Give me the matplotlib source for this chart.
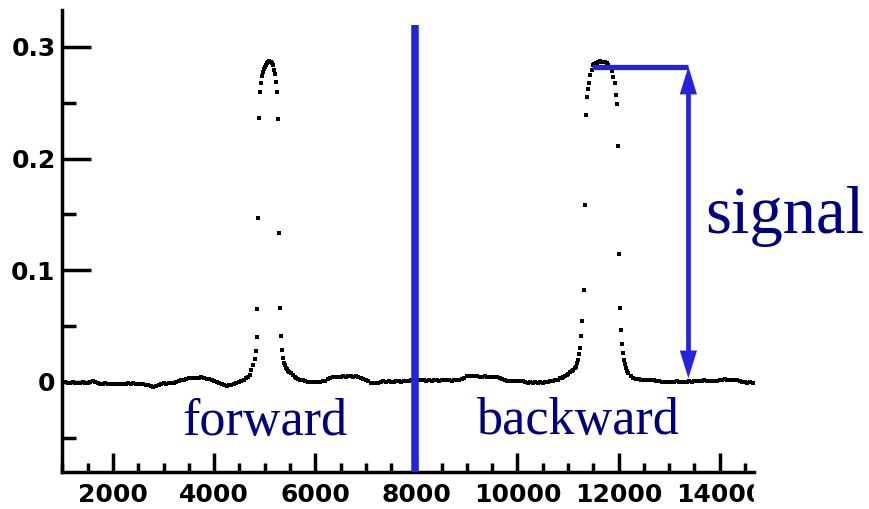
import numpy as np
import matplotlib.pyplot as plt
from matplotlib.patches import FancyArrowPatch, Rectangle
from matplotlib.ticker import FixedLocator, MultipleLocator

# baseline samples, one every 50 units
step = 50
base1_start = 1000
base1_y = [-0.0006, -0.0004, -0.0007, -0.0005, -0.0003, -0.0006, -0.0005, -0.0008, -0.0004, -0.0006, -0.0005,
           0.0002, 0.0010, 0.0004, -0.0008,
           -0.0015, -0.0020, -0.0012, -0.0018, -0.0022, -0.0016, -0.0019, -0.0014, -0.0020, -0.0017, -0.0015,
           -0.0013, -0.0017, -0.0012, -0.0016, -0.0020, -0.0015, -0.0018, -0.0024,
           -0.0030, -0.0038, -0.0042, -0.0036,
           -0.0025, -0.0018, -0.0012, -0.0016, -0.0010, -0.0013, -0.0008, -0.0004,
           0.0008, 0.0018, 0.0022, 0.0026,
           0.0032, 0.0036, 0.0040, 0.0034, 0.0038, 0.0042, 0.0036, 0.0030,
           0.0024, 0.0014, 0.0008, -0.0004,
           -0.0012, -0.0018, -0.0028, -0.0034, -0.0030]

base2_start = 5650
base2_y = [0.0030, 0.0022, 0.0015, 0.0008, 0.0004, 0.0000, -0.0004, 0.0002, -0.0003, 0.0001, 0.0006, 0.0012,
           0.0025, 0.0038, 0.0042, 0.0046, 0.0044,
           0.0048, 0.0052, 0.0046, 0.0050, 0.0055, 0.0049, 0.0052, 0.0045, 0.0040,
           0.0028, 0.0018, 0.0006,
           -0.0008, -0.0012, -0.0006, -0.0010,
           0.0002, 0.0006, 0.0003, 0.0008, 0.0004, 0.0001, 0.0006, 0.0009, 0.0004, 0.0007, 0.0010, 0.0012,
           0.0014, 0.0018, 0.0012, 0.0016, 0.0020, 0.0015, 0.0011, 0.0017, 0.0013, 0.0019, 0.0016, 0.0012,
           0.0018, 0.0014, 0.0020, 0.0016, 0.0013, 0.0017, 0.0021, 0.0015, 0.0024,
           0.0038, 0.0050, 0.0056, 0.0052, 0.0058, 0.0054, 0.0049, 0.0046, 0.0051, 0.0047, 0.0044, 0.0048,
           0.0042, 0.0046, 0.0036, 0.0024,
           0.0014, 0.0010, 0.0013, 0.0008, 0.0011, 0.0007, 0.0010, 0.0005,
           -0.0002, -0.0006, -0.0003, -0.0008, -0.0004, -0.0007, -0.0002, -0.0005, -0.0001, 0.0002, 0.0006,
           0.0012, 0.0016, 0.0022]

base3_start = 12350
base3_y = [0.0030, 0.0026,
           0.0022, 0.0018, 0.0021, 0.0016, 0.0019, 0.0014, 0.0010, 0.0006,
           0.0003, 0.0000, 0.0004, 0.0002, -0.0001, 0.0003, 0.0005, 0.0001, 0.0004, 0.0000, 0.0003, 0.0006, 0.0004,
           0.0009, 0.0012, 0.0008, 0.0011, 0.0014, 0.0010, 0.0007, 0.0012, 0.0009, 0.0013, 0.0016,
           0.0020, 0.0023, 0.0019, 0.0022, 0.0018, 0.0021, 0.0016, 0.0010,
           0.0002, -0.0004, -0.0006, -0.0003, -0.0005]

# forward peak
peak1_x = [4340, 4390, 4440, 4490, 4540, 4590, 4640, 4670, 4703, 4736, 4768, 4802, 4822, 4840, 4855,
           4868, 4887, 4915, 4934, 4954, 4966, 4985, 5000, 5020, 5040, 5060, 5080, 5100, 5120, 5140,
           5160, 5178, 5198, 5231, 5251, 5271, 5291, 5311, 5330, 5350, 5370, 5382, 5400, 5416, 5440,
           5461, 5490, 5528, 5560, 5590, 5620]
peak1_y = [-0.0027, -0.0020, -0.0012, 0.0000, 0.0012, 0.0022, 0.0033, 0.0045, 0.0063, 0.0107, 0.0152,
           0.0203, 0.0278, 0.0406, 0.0651, 0.1466, 0.2366, 0.2594, 0.2674, 0.2740, 0.2778, 0.2805,
           0.2823, 0.2835, 0.2852, 0.2860, 0.2870, 0.2866, 0.2868, 0.2855, 0.2836, 0.2793, 0.2755,
           0.2689, 0.2594, 0.2357, 0.1337, 0.0665, 0.0415, 0.0287, 0.0218, 0.0173, 0.0150, 0.0128,
           0.0112, 0.0098, 0.0090, 0.0078, 0.0060, 0.0045, 0.0036]

# backward peak
peak2_x = [10841, 10873, 10906, 10940, 10973, 11006, 11039, 11072, 11104, 11131, 11158, 11180, 11203,
           11220, 11237, 11262, 11282, 11316, 11330, 11356, 11381, 11400, 11415, 11435, 11468, 11500,
           11520, 11540, 11560, 11580, 11600, 11620, 11640, 11660, 11680, 11700, 11720, 11740, 11765,
           11790, 11810, 11831, 11864, 11896, 11930, 11950, 11975, 11989, 12009, 12029, 12049, 12074,
           12094, 12108, 12128, 12148, 12170, 12193, 12240, 12292]
peak2_y = [0.0033, 0.0040, 0.0048, 0.0055, 0.0063, 0.0075, 0.0092, 0.0100, 0.0107, 0.0122, 0.0137,
           0.0167, 0.0197, 0.0250, 0.0304, 0.0412, 0.0546, 0.0824, 0.1585, 0.2390, 0.2555, 0.2620,
           0.2675, 0.2750, 0.2793, 0.2838, 0.2845, 0.2850, 0.2855, 0.2858, 0.2860, 0.2866, 0.2870,
           0.2865, 0.2868, 0.2866, 0.2862, 0.2860, 0.2852, 0.2835, 0.2822, 0.2810, 0.2780, 0.2733,
           0.2675, 0.2570, 0.2486, 0.2113, 0.1146, 0.0665, 0.0466, 0.0340, 0.0260, 0.0197, 0.0160,
           0.0125, 0.0098, 0.0080, 0.0055, 0.0036]

xticks = [2000, 4000, 6000, 8000, 10000, 12000, 14000]
yticks = [0, 0.1, 0.2, 0.3]
ytick_labels = ["0", "0.1", "0.2", "0.3"]

divider_x = 7980
divider_top = 0.3196
signal_x = 13381
signal_top = 0.2823
signal_bottom = 0.0033
signal_bar_start = 11475

blue = "#2424dc"
navy = "#00007f"

def grid(start, ys):
    return np.arange(len(ys)) * step + start

x = np.concatenate([grid(base1_start, base1_y), peak1_x, grid(base2_start, base2_y),
                    peak2_x, grid(base3_start, base3_y)])
y = np.concatenate([base1_y, peak1_y, base2_y, peak2_y, base3_y])

fig = plt.figure(figsize=(8.69, 5.09), dpi=100)
ax = fig.add_axes([0.0719, 0.0733, 0.7958, 0.9071])

ax.plot(x, y, ls="none", marker="s", ms=2.6, mew=0, color="black", zorder=3)

ax.set_xlim(1000, 14680)
ax.set_ylim(-0.0803, 0.333)

for s in ["top", "right"]:
    ax.spines[s].set_visible(False)
for s in ["left", "bottom"]:
    ax.spines[s].set_linewidth(2.5)

ax.xaxis.set_major_locator(FixedLocator(xticks))
ax.xaxis.set_minor_locator(MultipleLocator(500))
ax.yaxis.set_major_locator(FixedLocator(yticks))
ax.set_yticklabels(ytick_labels)
ax.yaxis.set_minor_locator(MultipleLocator(0.05))

ax.tick_params(axis="both", which="both", direction="in", width=2.5, color="black")
ax.tick_params(axis="y", which="major", length=21, pad=5)
ax.tick_params(axis="y", which="minor", length=10)
ax.tick_params(axis="x", which="major", length=13.7, pad=8.5)
ax.tick_params(axis="x", which="minor", length=6.8)
for lab in ax.get_xticklabels() + ax.get_yticklabels():
    lab.set_fontfamily("DejaVu Sans")
    lab.set_fontweight("bold")
    lab.set_fontsize(18)

# annotations
ax.plot([divider_x, divider_x], [-0.0803, divider_top], color=blue, lw=5.4,
        solid_capstyle="butt", clip_on=False, zorder=5)
ax.plot([signal_bar_start, signal_x], [signal_top, signal_top], color=blue, lw=3.8,
        solid_capstyle="butt", zorder=4)
ax.plot([signal_x, signal_x], [signal_top - 0.02, signal_bottom + 0.02], color=blue, lw=3.4,
        solid_capstyle="butt", zorder=4)
mid = (signal_top + signal_bottom) / 2
for end in [signal_top, signal_bottom]:
    ax.add_patch(FancyArrowPatch((signal_x, mid), (signal_x, end),
                                 arrowstyle="-|>,head_length=2.0,head_width=0.62",
                                 mutation_scale=10, lw=0, color=blue,
                                 shrinkA=0, shrinkB=0, zorder=4))

ax.text(3376, -0.0474, "forward", color=navy, fontsize=37.5,
        family="Liberation Serif", ha="left", va="baseline")
ax.text(9197, -0.0465, "backward", color=navy, fontsize=37.5,
        family="Liberation Serif", ha="left", va="baseline")
ax.text(13712, 0.1334, "signal", color=navy, fontsize=48,
        family="Liberation Serif", ha="left", va="baseline")

# the source picture is cut off right after the axis end
fig.add_artist(Rectangle((754 / 869, 0), 1, 34 / 509, transform=fig.transFigure,
                         color="white", zorder=10))

plt.savefig("out.png", dpi=100)
